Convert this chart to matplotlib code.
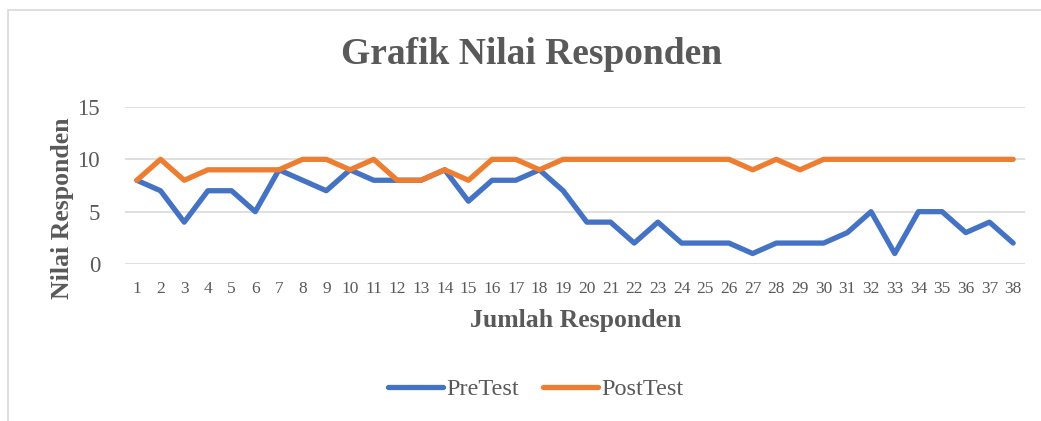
import matplotlib
matplotlib.use("Agg")
import matplotlib.pyplot as plt
from matplotlib.patches import Rectangle

categories = [str(i) for i in range(1, 39)]
pretest = [8, 7, 4, 7, 7, 5, 9, 8, 7, 9, 8, 8, 8, 9, 6, 8, 8, 9, 7, 4,
           4, 2, 4, 2, 2, 2, 1, 2, 2, 2, 3, 5, 1, 5, 5, 3, 4, 2]
posttest = [8, 10, 8, 9, 9, 9, 9, 10, 10, 9, 10, 8, 8, 9, 8, 10, 10, 9, 10, 10,
            10, 10, 10, 10, 10, 10, 9, 10, 9, 10, 10, 10, 10, 10, 10, 10, 10, 10]
yticks = [0, 5, 10, 15]

plt.rcParams['font.family'] = ['Liberation Serif', 'DejaVu Serif']
grey = '#595959'

fig = plt.figure(figsize=(10.41, 4.21), dpi=100)
fig.patches.append(Rectangle((8/1041, -0.1), 1.2, (421-10)/421 + 0.1, transform=fig.transFigure,
                             fill=False, edgecolor='#d9d9d9', linewidth=1.2))
ax = fig.add_axes([125/1041, 1-264/421, (1025-125)/1041, (264-107)/421])

x = list(range(len(categories)))
ax.plot(x, pretest, color='#4472c4', linewidth=3.8, solid_joinstyle='round', solid_capstyle='round', label='PreTest', zorder=3)
ax.plot(x, posttest, color='#ed7d31', linewidth=3.8, solid_joinstyle='round', solid_capstyle='round', label='PostTest', zorder=3)

ax.set_xlim(-0.5, len(categories) - 0.5)
ax.set_ylim(0, 15)
ax.set_yticks(yticks)
ax.set_xticks(x)
ax.set_xticklabels(categories)
ax.grid(axis='y', color='#d9d9d9', linewidth=1.2)
ax.set_axisbelow(True)
for s in ax.spines.values():
    s.set_visible(False)
ax.tick_params(axis='both', length=0, colors=grey)
ax.tick_params(axis='x', labelsize=12.5, pad=12)
ax.tick_params(axis='y', pad=18, labelsize=16.5)

fig.text(532/1041, 1-55/421, 'Grafik Nilai Responden', ha='center', va='center',
         fontsize=27, fontweight='bold', color=grey)
fig.text(62/1041, 1-208/421, 'Nilai Responden', ha='center', va='center', rotation=90,
         fontsize=18.5, fontweight='bold', color=grey)
fig.text(576/1041, 1-321/421, 'Jumlah Responden', ha='center', va='center',
         fontsize=18.5, fontweight='bold', color=grey)

leg = fig.legend(loc='center', bbox_to_anchor=(536/1041, 1-389/421), ncol=2, frameon=False,
                 fontsize=17.5, handlelength=2.25, columnspacing=1.0, handletextpad=0.15)
for t in leg.get_texts():
    t.set_color(grey)

fig.savefig('out.png', dpi=100)
